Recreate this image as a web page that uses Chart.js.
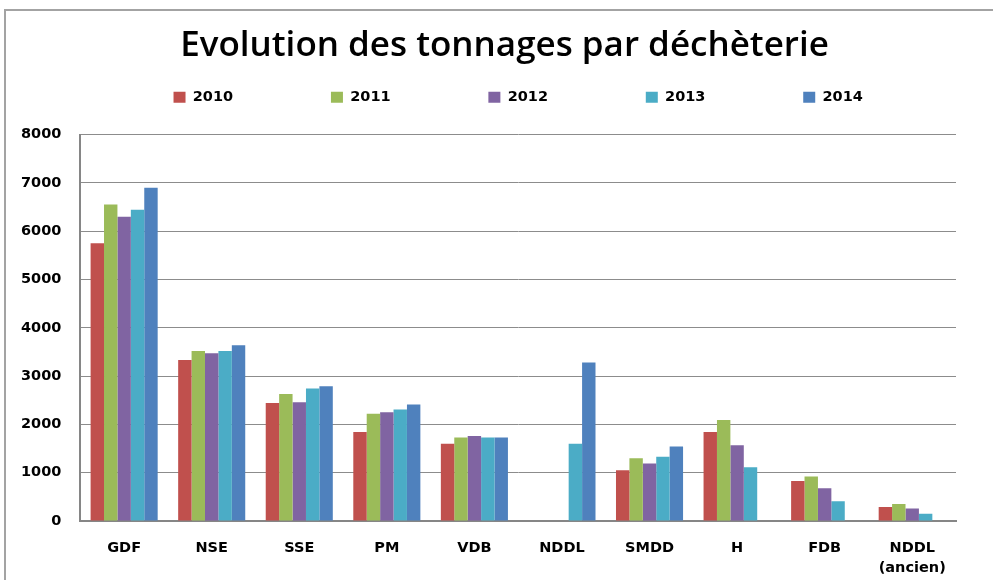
<!DOCTYPE html>
<html>
<head>
<meta charset="utf-8">
<script src="https://cdn.jsdelivr.net/npm/chart.js@4.4.1/dist/chart.umd.min.js"></script>
<style>
  html, body { margin: 0; padding: 0; background: #fff; }
  .wrap { position: relative; width: 993px; height: 580px; overflow: hidden; }
  .frame { position: absolute; left: 4px; top: 9px; width: 1100px; height: 700px; border: 2px solid #a3a3a3; }
  .box { position: absolute; left: 0; top: 0; width: 993px; height: 580px; }
</style>
</head>
<body>
<div class="wrap">
  <div class="frame"></div>
  <div class="box"><canvas id="chart"></canvas></div>
</div>
<script>
// tonnages par déchèterie
const categories = ['GDF', 'NSE', 'SSE', 'PM', 'VDB', 'NDDL', 'SMDD', 'H', 'FDB', ['NDDL', '(ancien)']];
const years = ['2010', '2011', '2012', '2013', '2014'];

const t2010 = [5750, 3330, 2440, 1840, 1600, null, 1050, 1840, 830, 290];
const t2011 = [6550, 3520, 2630, 2220, 1730, null, 1300, 2090, 920, 350];
const t2012 = [6300, 3470, 2460, 2250, 1760, null, 1190, 1570, 680, 260];
const t2013 = [6440, 3520, 2740, 2310, 1730, 1600, 1330, 1110, 410, 150];
const t2014 = [6900, 3640, 2790, 2410, 1730, 3280, 1540, null, null, null];

const yTicks = [0, 1000, 2000, 3000, 4000, 5000, 6000, 7000, 8000];

const COLORS = ['#C0504D', '#9BBB59', '#8064A2', '#4BACC6', '#4F81BD'];
const series = [t2010, t2011, t2012, t2013, t2014];

const labelFont = { family: "'DejaVu Sans', sans-serif", size: 14.5, weight: 'bold' };

// extra room under the legend
const legendGap = {
  id: 'legendGap',
  beforeInit(chart) {
    const fit = chart.legend.fit;
    chart.legend.fit = function () {
      fit.call(this);
      this.height += 20;
    };
  }
};

new Chart(document.getElementById('chart'), {
  type: 'bar',
  data: {
    labels: categories,
    datasets: series.map((d, i) => ({
      label: years[i],
      data: d,
      backgroundColor: COLORS[i],
      borderWidth: 0,
      categoryPercentage: 0.766,
      barPercentage: 1.0,
    }))
  },
  options: {
    responsive: true, maintainAspectRatio: false,
    animation: false,
    layout: { padding: { left: 2, right: 37, top: 0, bottom: 0 } },
    plugins: {
      title: {
        display: true,
        // trailing spaces nudge the centred title a little to the left
        text: 'Evolution des tonnages par déchèterie   ',
        fullSize: false,
        color: '#000',
        font: { family: "'Open Sans', sans-serif", size: 35, weight: '600' },
        padding: { top: 25, bottom: 11 },
      },
      legend: {
        display: true,
        position: 'top',
        fullSize: false,
        labels: {
          color: '#000',
          font: labelFont,
          boxWidth: 12,
          boxHeight: 11,
          padding: 12,
          generateLabels(chart) {
            const items = Chart.defaults.plugins.legend.labels.generateLabels(chart);
            items.forEach((it, i) => {
              it.lineWidth = 0;
              if (i < items.length - 1) it.text = it.text + ' '.repeat(17);
            });
            return items;
          }
        }
      },
      tooltip: { enabled: false },
    },
    scales: {
      x: {
        afterFit(scale) { scale.height = 59; },
        grid: { display: false, drawTicks: false },
        border: { color: '#868686', width: 2 },
        ticks: { color: '#000', font: { ...labelFont, lineHeight: 20 / 14.5 }, padding: 17, maxRotation: 0, autoSkip: false },
      },
      y: {
        min: 0, max: 8000,
        afterBuildTicks(scale) { scale.ticks = yTicks.map(v => ({ value: v })); },
        grid: { color: '#8c8c8c', lineWidth: 1, drawTicks: false },
        border: { color: '#868686', width: 2 },
        ticks: { color: '#000', font: labelFont, padding: 19, callback: v => String(v) },
      }
    }
  },
  plugins: [legendGap]
});
</script>
</body>
</html>
